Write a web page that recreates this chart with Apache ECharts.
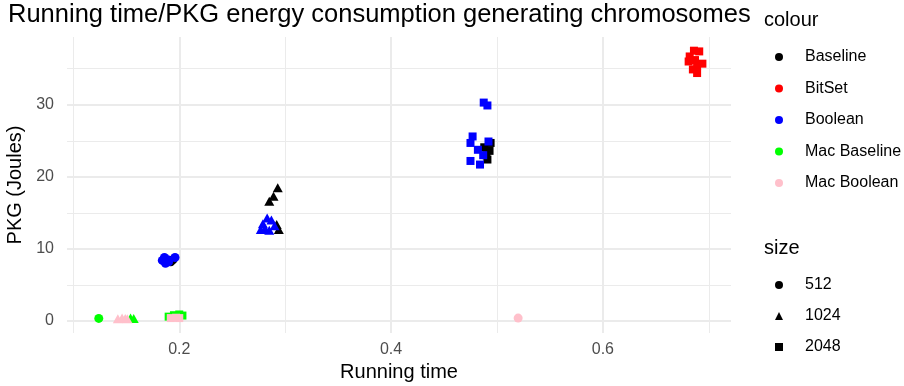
<!DOCTYPE html>
<html>
<head>
<meta charset="utf-8">
<script src="https://cdn.jsdelivr.net/npm/echarts@6/dist/echarts.min.js"></script>
<style>
html, body { margin: 0; padding: 0; background: #fff; }
#main { width: 904px; height: 386px; }
</style>
</head>
<body>
<div id="main"></div>
<script>
var colourNames = ['Baseline', 'BitSet', 'Boolean', 'Mac Baseline', 'Mac Boolean'];
var colourValues = ['#000000', '#FF0000', '#0000FF', '#00FF00', '#FFC0CB'];
var sizeNames = ['512', '1024', '2048'];
var sizeShapes = ['circle', 'triangle', 'rect'];
var sizePx = [9, [10, 9], 8];

var xMajor = [0.2, 0.4, 0.6];
var xMinor = [0.1, 0.3, 0.5, 0.7];
var yMajor = [0, 10, 20, 30];
var yMinor = [5, 15, 25, 35];

// [running time, PKG (Joules)]
var baseline512 = [[0.192, 8.2], [0.194, 8.5]];
var baseline1024 = [[0.293, 18.5], [0.289, 17.3], [0.285, 16.6], [0.294, 12.7], [0.292, 13.4]];
var baseline2048 = [[0.494, 24.7], [0.493, 23.6], [0.488, 24.1], [0.490, 23.0], [0.491, 22.4]];
var bitset2048 = [[0.686, 37.5], [0.691, 37.4], [0.682, 36.7], [0.687, 36.2], [0.694, 35.7],
                  [0.689, 35.4], [0.689, 34.4], [0.685, 34.9], [0.681, 36.0]];
var boolean512 = [[0.184, 8.4], [0.187, 8.0], [0.190, 8.2], [0.186, 8.8], [0.196, 8.8], [0.189, 8.5]];
var boolean1024 = [[0.279, 13.5], [0.283, 14.3], [0.287, 14.0], [0.281, 12.8], [0.285, 12.6],
                   [0.290, 13.2], [0.277, 12.7]];
var boolean2048 = [[0.4875, 30.3], [0.491, 29.9], [0.477, 25.6], [0.475, 24.7], [0.492, 24.9],
                   [0.482, 23.75], [0.487, 23.0], [0.475, 22.2], [0.484, 21.7]];
var macBaseline512 = [[0.124, 0.35]];
var macBaseline1024 = [[0.154, 0.4], [0.157, 0.35]];
var macBaseline2048 = [[0.190, 0.6], [0.195, 0.8], [0.200, 0.9], [0.203, 0.75]];
var macBoolean512 = [[0.520, 0.4]];
var macBoolean1024 = [[0.142, 0.3], [0.146, 0.4], [0.149, 0.35], [0.151, 0.3]];
var macBoolean2048 = [[0.192, 0.4], [0.197, 0.45], [0.200, 0.4]];

var groups = [
	[baseline512, baseline1024, baseline2048],
	[[], [], bitset2048],
	[boolean512, boolean1024, boolean2048],
	[macBaseline512, macBaseline1024, macBaseline2048],
	[macBoolean512, macBoolean1024, macBoolean2048]
];

var font = 'Liberation Sans, Arial, sans-serif';
var myChart = echarts.init(document.getElementById('main'));

var series = [];
for (var c = 0; c < colourNames.length; c++) {
	for (var s = 0; s < sizeNames.length; s++) {
		if (!groups[c][s].length) continue;
		series.push({
			name: colourNames[c],
			type: 'scatter',
			symbol: sizeShapes[s],
			symbolSize: sizePx[s],
			itemStyle: { color: colourValues[c], opacity: 1 },
			silent: true,
			data: groups[c][s]
		});
	}
}
// size legend entries only
for (var s = 0; s < sizeNames.length; s++) {
	series.push({
		name: sizeNames[s],
		type: 'scatter',
		symbol: sizeShapes[s],
		symbolSize: sizePx[s],
		itemStyle: { color: '#000', opacity: 1 },
		data: []
	});
}

function valueAxis(min, max, ticks, major, extra) {
	var ax = {
		type: 'value',
		min: min,
		max: max,
		axisLine: { show: false },
		axisTick: { show: false, customValues: ticks },
		splitLine: { show: true, lineStyle: { color: '#EBEBEB', width: major ? 2 : 1 } },
		axisLabel: { show: major, customValues: ticks, color: '#4D4D4D', fontSize: 16, fontFamily: font }
	};
	for (var k in extra) ax[k] = extra[k];
	return ax;
}

var legendText = { fontSize: 16, fontFamily: font, color: '#000', lineHeight: 16, padding: [0, 0, 0, 17] };
var titleText = { fontSize: 20, fontWeight: 'normal', color: '#000', fontFamily: font };

option = {
	backgroundColor: '#fff',
	animation: false,
	title: [
		{ text: 'Running time/PKG energy consumption generating chromosomes', left: 8, top: 2, padding: 0,
		  textStyle: { fontSize: 25.5, fontWeight: 'normal', color: '#000', fontFamily: font } },
		{ text: 'colour', left: 764, top: 10, padding: 0, textStyle: titleText },
		{ text: 'size', left: 764, top: 238, padding: 0, textStyle: titleText }
	],
	grid: { left: 67, right: 173, top: 37, bottom: 53, outerBoundsMode: 'none', containLabel: false },
	legend: [
		{
			orient: 'vertical', left: 775, top: 49, padding: 0, itemWidth: 8, itemHeight: 8, itemGap: 15.5,
			selectedMode: false, textStyle: legendText,
			data: colourNames.map(function (n) { return { name: n, icon: 'circle' }; })
		},
		{
			orient: 'vertical', left: 775, top: 277, padding: 0, itemWidth: 8, itemHeight: 8, itemGap: 15,
			selectedMode: false, textStyle: legendText,
			data: sizeNames
		}
	],
	xAxis: [
		valueAxis(0.094, 0.721, xMajor, true, {
			position: 'bottom',
			name: 'Running time', nameLocation: 'middle', nameGap: 27,
			nameTextStyle: { fontSize: 20, color: '#000', fontFamily: font }
		}),
		valueAxis(0.094, 0.721, xMinor, false, { position: 'bottom' })
	],
	yAxis: [
		valueAxis(-1.67, 39.4, yMajor, true, {
			position: 'left',
			name: 'PKG (Joules)', nameLocation: 'middle', nameGap: 39,
			nameTextStyle: { fontSize: 20, color: '#000', fontFamily: font }
		}),
		valueAxis(-1.67, 39.4, yMinor, false, { position: 'left' })
	],
	series: series
};
option.xAxis[0].axisLabel.margin = 9;
option.yAxis[0].axisLabel.margin = 13;

myChart.setOption(option);
</script>
</body>
</html>
